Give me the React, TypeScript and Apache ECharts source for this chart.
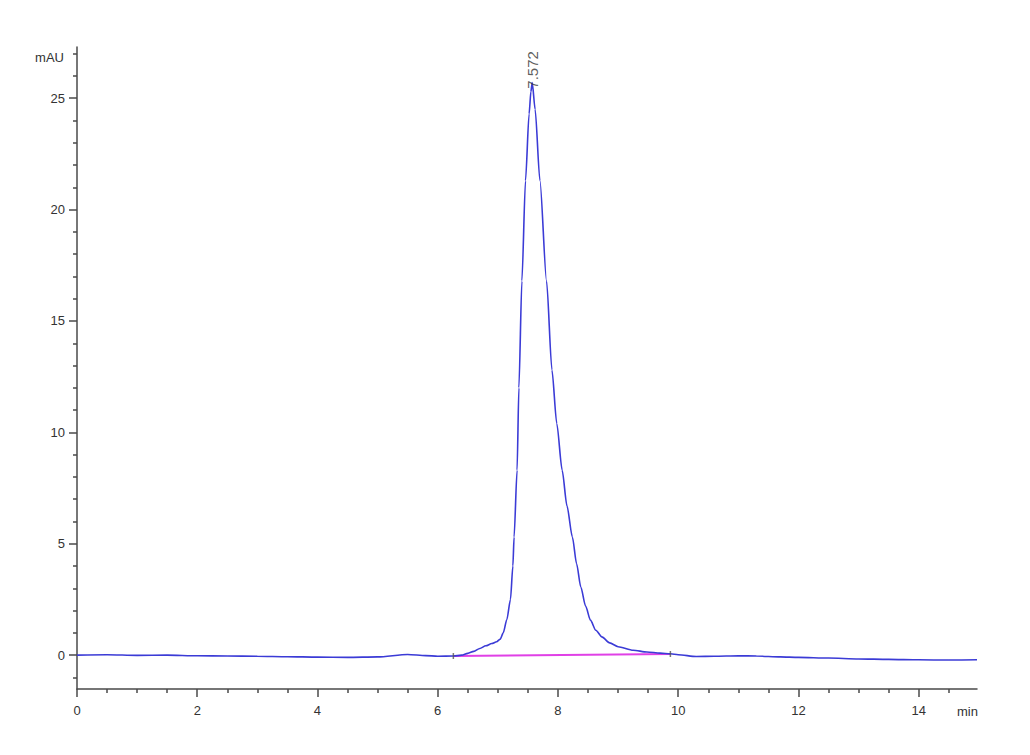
import React, { useEffect, useRef } from "react";
import * as echarts from "echarts";

const timeMin = [
  0, 0.5, 1.0, 1.5, 2.0, 2.5, 3.0, 3.5, 4.0, 4.5, 5.0, 5.5, 5.8, 6.0, 6.26, 6.4, 6.5, 6.6, 6.7,
  6.8, 6.9, 6.98, 7.04, 7.09, 7.15, 7.21, 7.25, 7.27, 7.32, 7.35, 7.4, 7.46, 7.52, 7.55,
  7.572, 7.62, 7.7, 7.81, 7.9, 7.98, 8.07, 8.15, 8.24, 8.31, 8.38, 8.46, 8.54, 8.63, 8.73,
  8.86, 9.0, 9.25, 9.48, 9.7, 9.87, 10.0, 10.3, 10.6, 11.0, 11.3, 11.7,
  12.0, 12.5, 13.0, 13.5, 14.0, 14.5, 14.97,
];
const signal = [
  0.0, 0.02, -0.01, 0.0, -0.03, -0.04, -0.05, -0.07, -0.09, -0.1, -0.08, 0.03, -0.02, -0.05,
  -0.04, 0.0, 0.08, 0.17, 0.3, 0.42, 0.52, 0.6, 0.72, 1.0, 1.6, 2.5, 4.0, 5.3, 8.3, 12.0, 16.8,
  21.3, 24.3, 25.3, 25.7, 24.5, 21.3, 16.8, 12.8, 10.4, 8.3, 6.7, 5.3, 4.1, 3.06, 2.2, 1.57,
  1.12, 0.82, 0.55, 0.38, 0.22, 0.14, 0.09, 0.06, 0.02, -0.06, -0.05,
  -0.03, -0.04, -0.08, -0.1, -0.13, -0.17, -0.19, -0.21, -0.22, -0.21,
];
const peakTime = 7.572;
const peakHeight = 25.7;
const peakLabel = "7.572";
const baselineTimes = [6.26, 9.87];
const baselineValues = [-0.04, 0.05];

const xMajorTicks = [0, 2, 4, 6, 8, 10, 12, 14];
const xMinorTicks = [0.5, 1, 1.5, 2.5, 3, 3.5, 4.5, 5, 5.5, 6.5, 7, 7.5, 8.5, 9, 9.5, 10.5, 11, 11.5, 12.5, 13, 13.5, 14.5];
const yMajorTicks = [0, 5, 10, 15, 20, 25];
const yMinorTicks = [-1, 1, 2, 3, 4, 6, 7, 8, 9, 11, 12, 13, 14, 16, 17, 18, 19, 21, 22, 23, 24, 26, 27];

const X_MIN = 0;
const X_MAX = 14.97;
const Y_MIN = -1.52;
const Y_MAX = 27.3;

export default function App() {
  const ref = useRef<HTMLDivElement>(null);
  useEffect(() => {
    if (!ref.current) return;
    const chart = echarts.init(ref.current, undefined, { renderer: "svg" });
    const font = "Liberation Sans, Arial, sans-serif";
    const axisColor = "#4a4a4a";
    const lineData = timeMin.map((t, i) => [t, signal[i]]);
    const baseData = baselineTimes.map((t, i) => [t, baselineValues[i]]);
    chart.setOption({
      animation: false,
      backgroundColor: "#ffffff",
      grid: { left: 77, right: 53, top: 47, bottom: 66, containLabel: false },
      xAxis: [
        {
          type: "value",
          min: X_MIN,
          max: X_MAX,
          position: "bottom",
          name: "min",
          nameLocation: "end",
          nameGap: -20,
          nameTextStyle: { fontFamily: font, fontSize: 13, color: "#333", align: "left", verticalAlign: "top", padding: [16, 0, 0, 0] },
          axisLine: { show: true, onZero: false, lineStyle: { color: axisColor, width: 1.5 } },
          axisTick: { show: true, length: 8, customValues: xMajorTicks, lineStyle: { color: axisColor, width: 1.5 } },
          axisLabel: { customValues: xMajorTicks, margin: 15, fontFamily: font, fontSize: 13, color: "#333" },
          splitLine: { show: false },
        },
        {
          type: "value",
          min: X_MIN,
          max: X_MAX,
          position: "bottom",
          axisLine: { show: false, onZero: false },
          axisTick: { show: true, length: 4, customValues: xMinorTicks, lineStyle: { color: axisColor, width: 1.5 } },
          axisLabel: { show: false },
          splitLine: { show: false },
        },
      ],
      yAxis: [
        {
          type: "value",
          min: Y_MIN,
          max: Y_MAX,
          position: "left",
          name: "mAU",
          nameLocation: "end",
          nameGap: 0,
          nameTextStyle: { fontFamily: font, fontSize: 13, color: "#333", align: "right", verticalAlign: "top", padding: [4, 13, 0, 0] },
          axisLine: { show: true, onZero: false, lineStyle: { color: axisColor, width: 1.5 } },
          axisTick: { show: true, length: 8, customValues: yMajorTicks, lineStyle: { color: axisColor, width: 1.5 } },
          axisLabel: { customValues: yMajorTicks, margin: 12, fontFamily: font, fontSize: 13, color: "#333" },
          splitLine: { show: false },
        },
        {
          type: "value",
          min: Y_MIN,
          max: Y_MAX,
          position: "left",
          axisLine: { show: false, onZero: false },
          axisTick: { show: true, length: 4, customValues: yMinorTicks, lineStyle: { color: axisColor, width: 1.5 } },
          axisLabel: { show: false },
          splitLine: { show: false },
        },
      ],
      series: [
        {
          type: "line",
          data: baseData,
          xAxisIndex: 0,
          yAxisIndex: 0,
          showSymbol: false,
          lineStyle: { color: "#e040e6", width: 2 },
          z: 2,
        },
        {
          type: "line",
          data: lineData,
          xAxisIndex: 0,
          yAxisIndex: 0,
          showSymbol: false,
          smooth: 0.25,
          smoothMonotone: "x",
          lineStyle: { color: "#3b3bd6", width: 1.6 },
          z: 3,
        },
        {
          type: "scatter",
          data: baseData,
          xAxisIndex: 0,
          yAxisIndex: 0,
          symbol: "rect",
          symbolSize: [1.5, 6],
          itemStyle: { color: "#555" },
          z: 4,
        },
        {
          type: "scatter",
          data: [[peakTime, peakHeight]],
          xAxisIndex: 0,
          yAxisIndex: 0,
          symbolSize: 0,
          label: {
            show: true,
            formatter: peakLabel,
            position: "top",
            distance: -6,
            rotate: 90,
            align: "left",
            verticalAlign: "middle",
            fontFamily: font,
            fontSize: 15,
            color: "#333",
          },
          z: 5,
        },
      ],
    });
    return () => chart.dispose();
  }, []);
  return (
    <div
      ref={ref}
      style={{ position: "fixed", left: 0, top: 0, width: 1030, height: 755, background: "#fff" }}
    />
  );
}
